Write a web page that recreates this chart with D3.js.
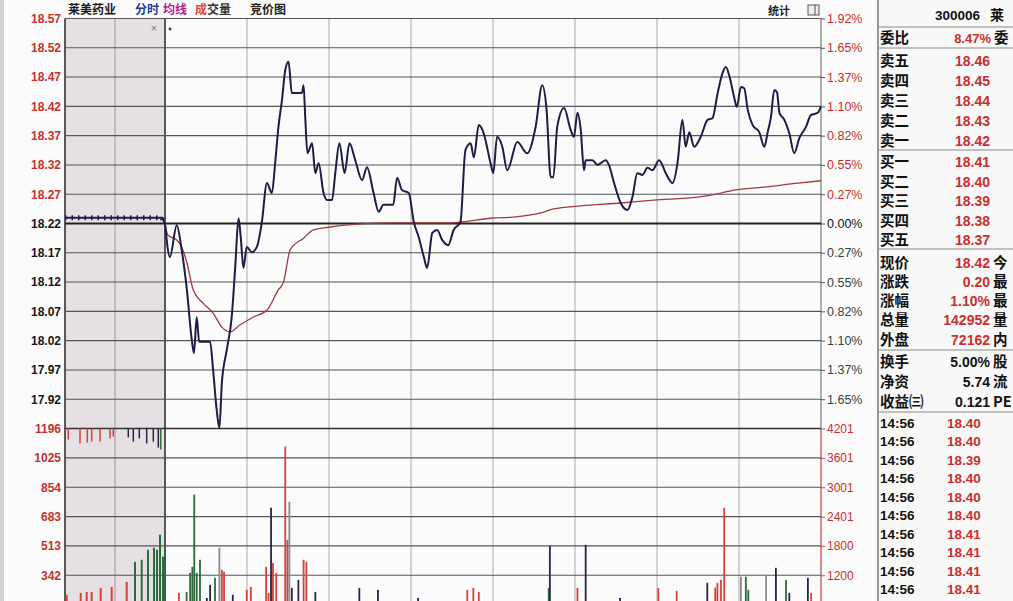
<!DOCTYPE html>
<html><head><meta charset="utf-8">
<script src="https://cdn.jsdelivr.net/npm/d3@7"></script>
<style>
body{margin:0;background:#fff}
svg{display:block}
text{font-family:"Liberation Sans",Arial,sans-serif}
.cjk{font-family:"Noto Sans CJK SC","Noto Sans",sans-serif;font-weight:700}
</style>
</head><body>
<svg id="c" width="1013" height="601"></svg>
<script>
// ---------- data ----------
const stockName = "莱美药业";
const stockCode = "300006";
const prevClose = 18.22;
const priceTicks = [18.57,18.52,18.47,18.42,18.37,18.32,18.27,18.22,18.17,18.12,18.07,18.02,17.97,17.92];
const pctLabels = ["1.92%","1.65%","1.37%","1.10%","0.82%","0.55%","0.27%","0.00%","0.27%","0.55%","0.82%","1.10%","1.37%","1.65%"];
const volTicks = [1196,1025,854,683,513,342];
const volRightLabels = ["4201","3601","3001","2401","1800","1200"];

// minute index (0 = 9:30, 240 = 15:00), price
const priceLine = [
[0,18.221],[1.8,18.163],[4.3,18.217],[6.1,18.175],[8.0,18.107],[9.8,18.021],[10.6,17.999],[11.6,18.060],
[12.5,18.018],[16.5,18.018],[17.6,17.970],[18.9,17.902],[19.9,17.871],[20.8,17.948],[22.6,18.004],[24.4,18.060],
[25.7,18.146],[26.9,18.229],[27.7,18.197],[28.7,18.144],[29.9,18.180],[31.8,18.171],[33.6,18.180],[35.4,18.221],
[37.3,18.289],[39.1,18.272],[40.3,18.323],[41.5,18.385],[42.8,18.431],[44.0,18.482],[45.2,18.496],[46.4,18.443],
[50.1,18.443],[50.7,18.456],[51.3,18.402],[52.1,18.340],[53.8,18.357],[55.0,18.306],[56.2,18.323],[58.0,18.272],
[59.3,18.260],[61.1,18.260],[62.3,18.306],[63.8,18.357],[65.7,18.306],[67.5,18.357],[69.6,18.328],[72.1,18.294],
[73.9,18.316],[76.3,18.272],[78.2,18.240],[79.9,18.252],[83.5,18.252],[84.9,18.298],[86.7,18.277],[89.2,18.272],
[91.0,18.223],[92.8,18.197],[94.7,18.163],[95.9,18.144],[97.8,18.204],[99.6,18.209],[101.4,18.192],[103.6,18.183],
[105.6,18.209],[108.1,18.223],[109.9,18.345],[111.8,18.357],[113.0,18.333],[114.8,18.388],[116.6,18.374],[119.1,18.323],
[120.1,18.306],[121.5,18.368],[123.4,18.351],[125.2,18.311],[128.9,18.359],[132.5,18.340],[135.6,18.385],[138.0,18.456],
[139.6,18.414],[141.1,18.299],[142.1,18.299],[143.5,18.385],[146.0,18.417],[148.4,18.380],[149.6,18.368],[150.9,18.409],
[152.1,18.380],[153.3,18.311],[153.9,18.328],[156.4,18.328],[158.2,18.320],[161.2,18.328],[162.4,18.320],[164.3,18.289],
[166.7,18.255],[169.2,18.243],[171.0,18.265],[172.8,18.306],[174.7,18.303],[176.5,18.315],[178.3,18.311],[180.8,18.328],
[183.2,18.306],[185.7,18.289],[187.5,18.323],[189.3,18.397],[190.5,18.351],[191.8,18.376],[193.6,18.351],[196.0,18.368],
[198.5,18.397],[200.3,18.400],[202.2,18.443],[204.0,18.477],[205.2,18.487],[206.4,18.473],[208.2,18.436],[209.2,18.419],
[210.7,18.453],[211.9,18.451],[213.2,18.414],[215.0,18.388],[217.4,18.376],[219.3,18.351],[220.5,18.376],[221.7,18.402],
[222.9,18.448],[223.9,18.444],[224.8,18.409],[226.6,18.397],[228.4,18.374],[230.2,18.340],[232.1,18.366],[234.5,18.385],
[236.3,18.405],[238.8,18.409],[240,18.420]
];
const avgLine = [
[0,18.219],[1.1,18.200],[4.3,18.192],[6.1,18.180],[8.0,18.153],[10.3,18.107],[13.9,18.084],[17.6,18.067],
[20.8,18.043],[23.8,18.035],[27.5,18.047],[32.2,18.060],[37.3,18.072],[41.5,18.107],[43.3,18.119],[45.8,18.175],
[50.7,18.195],[54.3,18.209],[60.5,18.214],[70.2,18.219],[86.1,18.221],[104.4,18.221],[109.2,18.223],[119.1,18.229],
[127.5,18.231],[137.4,18.238],[142.2,18.245],[152.1,18.250],[166.7,18.255],[178.8,18.260],[194.9,18.265],[203.4,18.272],
[208.1,18.277],[219.1,18.282],[231.6,18.289],[240,18.293]
];
// minute, volume, colour code (r up, g down, k dark, y grey)
const volBars = [
[0,508,"g"],[5.1,239,"r"],[7.9,245,"g"],[9.2,356,"g"],[10.0,391,"g"],[10.7,811,"g"],[11.6,356,"g"],[12.8,432,"g"],
[15.3,210,"k"],[16.5,286,"k"],[18.3,327,"g"],[19.9,502,"y"],[20.8,373,"r"],[21.6,362,"r"],[24.8,228,"k"],[29.9,257,"r"],
[31.4,274,"r"],[37.0,391,"r"],[37.9,239,"r"],[38.8,735,"k"],[39.5,414,"r"],[40.7,356,"r"],[44.0,1091,"r"],[44.8,548,"r"],
[45.5,770,"y"],[46.4,268,"k"],[48.8,315,"k"],[50.7,432,"r"],[51.7,420,"r"],[55.0,245,"k"],[71.1,268,"k"],[77.9,257,"k"],
[92.6,210,"k"],[110.6,257,"r"],[112.8,268,"r"],[114.8,245,"r"],[140.4,268,"g"],[140.8,513,"k"],[150.9,268,"r"],[153.9,519,"k"],
[166.5,210,"k"],[180.5,268,"r"],[187.2,251,"r"],[198.4,298,"k"],[201.3,270,"r"],[202.1,298,"r"],[203.4,315,"r"],[204.6,735,"r"],
[210.7,333,"y"],[212.5,333,"g"],[213.4,257,"g"],[219.9,344,"y"],[223.5,385,"k"],[227.2,315,"g"],[228.4,239,"k"],[235.2,327,"k"],
[236.4,239,"r"]
];
// call auction (0 = 9:15, 10 = 9:25)
const auctionPrice = [[0,18.23],[9.7,18.23],[10,18.22]];
const auctionBars = [
[0.17,228,"r"],[1.57,239,"r"],[2.17,245,"r"],[2.67,245,"r"],[3.57,268,"r"],[4.67,274,"r"],[6.17,303,"r"],
[7.0,420,"g"],[7.67,432,"g"],[8.3,490,"g"],[8.9,502,"g"],[9.2,490,"g"],[9.5,578,"g"],[9.8,450,"g"]
];
const auctionImbalance = [
[0.33,64,"r"],[1.5,87,"r"],[2.23,82,"r"],[2.67,76,"r"],[3.5,76,"r"],[4.5,58,"r"],[4.83,47,"r"],
[6.33,52,"k"],[6.83,76,"k"],[7.43,58,"k"],[8.17,87,"k"],[8.83,76,"k"],[9.33,111,"k"],[9.57,122,"g"]
];

const headerItems = ["莱美药业","分时","均线","成交量","竞价图"];
const askLabels = ["卖五","卖四","卖三","卖二","卖一"];
const askPrices = ["18.46","18.45","18.44","18.43","18.42"];
const bidLabels = ["买一","买二","买三","买四","买五"];
const bidPrices = ["18.41","18.40","18.39","18.38","18.37"];
const quoteLabels = ["现价","涨跌","涨幅","总量","外盘"];
const quoteValues = ["18.42","0.20","1.10%","142952","72162"];
const quoteSide = ["今","最","最","量","内"];
const statLabels = ["换手","净资","收益㈢"];
const statValues = ["5.00%","5.74","0.121"];
const statSide = ["股","流","PE"];
const tradeTimes = ["14:56","14:56","14:56","14:56","14:56","14:56","14:56","14:56","14:56","14:56"];
const tradePrices = ["18.40","18.40","18.39","18.40","18.40","18.40","18.41","18.41","18.41","18.41"];

// ---------- layout ----------
const W = 1013, H = 601;
const X0 = 65, XA = 165, X1 = 821, YT = 18.5, YM = 428.5, YB = 634;
const svg = d3.select("#c");
const xT = d3.scaleLinear().domain([0,240]).range([XA,X1]);
const xA = d3.scaleLinear().domain([0,10]).range([X0,XA]);
const yP = d3.scaleLinear().domain([17.87,18.57]).range([YM,YT]);
const yV = d3.scaleLinear().domain([0,1196]).range([YB,YM]);
const colors = {r:"#d8403a", g:"#2e6b3a", k:"#262645", y:"#8e8a90"};
const RED = "#c8302c";

svg.append("rect").attr("width",W).attr("height",H).attr("fill","#fbfbfb");
svg.append("rect").attr("x",0).attr("y",0).attr("width",4).attr("height",H).attr("fill","#cfcfcf");
// pre-market shading
svg.append("rect").attr("x",X0).attr("y",YT).attr("width",XA-X0).attr("height",H-YT).attr("fill","#e6dfe4");

// vertical grid
const g = svg.append("g");
d3.range(0,241,30).forEach(m=>{
  g.append("line").attr("x1",xT(m)).attr("x2",xT(m)).attr("y1",YT).attr("y2",H)
   .attr("stroke", m===0 ? "#333" : "#aaa").attr("stroke-width", m===0 ? 1.6 : 1);
});
g.append("line").attr("x1",xA(5)).attr("x2",xA(5)).attr("y1",YT).attr("y2",H).attr("stroke","#9a9a9a");
g.append("line").attr("x1",X0).attr("x2",X0).attr("y1",YT).attr("y2",H).attr("stroke","#333").attr("stroke-width",1.6);
// right border
g.append("line").attr("x1",X1).attr("x2",X1).attr("y1",YT).attr("y2",YM).attr("stroke","#888");
g.append("line").attr("x1",X1).attr("x2",X1).attr("y1",YM).attr("y2",H).attr("stroke","#d44");

// horizontal grid
priceTicks.forEach(p=>{
  g.append("line").attr("x1",X0).attr("x2",X1).attr("y1",yP(p)).attr("y2",yP(p))
   .attr("stroke", p===prevClose ? "#222" : "#555").attr("stroke-width", p===prevClose ? 1.8 : 1.1);
});
g.append("line").attr("x1",X0).attr("x2",X1).attr("y1",yV(1196)).attr("y2",yV(1196)).attr("stroke","#333").attr("stroke-width",1.6);
volTicks.slice(1).forEach(v=>{
  g.append("line").attr("x1",X0).attr("x2",X1).attr("y1",yV(v)).attr("y2",yV(v)).attr("stroke","#555").attr("stroke-width",1.1);
});

// volume bars
const bars = svg.append("g");
bars.selectAll(".vb").data(volBars).join("rect")
  .attr("x",d=>xT(d[0])-0.9).attr("width",1.8)
  .attr("y",d=>yV(d[1])).attr("height",d=>YB-yV(d[1]))
  .attr("fill",d=>colors[d[2]]);
bars.selectAll(".ab").data(auctionBars).join("rect")
  .attr("x",d=>xA(d[0])-1).attr("width",2)
  .attr("y",d=>yV(d[1])).attr("height",d=>YB-yV(d[1]))
  .attr("fill",d=>colors[d[2]]);
bars.selectAll(".ai").data(auctionImbalance).join("rect")
  .attr("x",d=>xA(d[0])-0.75).attr("width",1.5)
  .attr("y",YM).attr("height",d=>YB-yV(d[1]))
  .attr("fill",d=>colors[d[2]]);

// lines
const line = d3.line().x(d=>xT(d[0])).y(d=>yP(d[1])).curve(d3.curveMonotoneX);
svg.append("path").datum(avgLine).attr("d",line).attr("fill","none").attr("stroke","#a03a40").attr("stroke-width",1.3);
svg.append("path").datum(priceLine).attr("d",line).attr("fill","none").attr("stroke","#1d1d45").attr("stroke-width",2).attr("stroke-linejoin","round");
const aLine = d3.line().x(d=>xA(d[0])).y(d=>yP(d[1]));
svg.append("path").datum(auctionPrice).attr("d",aLine).attr("fill","none").attr("stroke","#1d1d45").attr("stroke-width",2);
svg.append("path").datum(auctionPrice).attr("d",aLine).attr("fill","none").attr("stroke","#1d1d45").attr("stroke-width",5).attr("stroke-dasharray","1.5,5");

// markers near top
svg.append("text").attr("x",151).attr("y",32).attr("font-size",10).attr("fill","#8a6a70").text("×");
svg.append("circle").attr("cx",170).attr("cy",29).attr("r",1.4).attr("fill","#333");

// left axes
const la = svg.append("g").attr("transform",`translate(${X0-3},0)`)
  .call(d3.axisLeft(yP).tickValues(priceTicks).tickSize(0).tickPadding(1).tickFormat(d3.format(".2f")));
la.select(".domain").remove();
la.selectAll("text").attr("font-size",12).attr("font-weight",700)
  .attr("fill",(d,i)=> i<7 ? RED : "#161616");
const lv = svg.append("g").attr("transform",`translate(${X0-3},0)`)
  .call(d3.axisLeft(yV).tickValues(volTicks).tickSize(0).tickPadding(1).tickFormat(d3.format("d")));
lv.select(".domain").remove();
lv.selectAll("text").attr("font-size",12).attr("font-weight",700).attr("fill",RED);

// right axes
const ra = svg.append("g").attr("transform",`translate(${X1},0)`)
  .call(d3.axisRight(yP).tickValues(priceTicks).tickSize(4).tickPadding(2).tickFormat((d,i)=>pctLabels[i]));
ra.select(".domain").remove();
ra.selectAll("line").attr("stroke","#555");
ra.selectAll("text").attr("font-size",12.5)
  .attr("fill",(d,i)=> i<7 ? RED : (i===7 ? "#111" : "#34443a"));
const rv = svg.append("g").attr("transform",`translate(${X1},0)`)
  .call(d3.axisRight(yV).tickValues(volTicks).tickSize(4).tickPadding(2).tickFormat((d,i)=>volRightLabels[i]));
rv.select(".domain").remove();
rv.selectAll("line").attr("stroke","#d44");
rv.selectAll("text").attr("font-size",12).attr("fill",RED);

// header
const hx = [68,135,163,195,250];
const hc = ["#1a1a1a","#2a3a9a","#b02090","#333","#222"];
headerItems.forEach((t,i)=>{
  const tx = svg.append("text").attr("class","cjk").attr("x",hx[i]).attr("y",13.5).attr("font-size",12).attr("fill",hc[i]);
  if(i===3){ tx.append("tspan").attr("fill","#e04a3a").text(t[0]); tx.append("tspan").text(t.slice(1)); }
  else tx.text(t);
});
svg.append("text").attr("class","cjk").attr("x",768).attr("y",15).attr("font-size",11).attr("fill","#222").text("统计");
svg.append("rect").attr("x",808).attr("y",5).attr("width",11).attr("height",10).attr("fill","#eee").attr("stroke","#555");
svg.append("line").attr("x1",815).attr("x2",815).attr("y1",5).attr("y2",15).attr("stroke","#555");

// ---------- right panel ----------
const P0 = 878;
svg.append("rect").attr("x",P0).attr("y",0).attr("width",W-P0).attr("height",H).attr("fill","#f8f8f8");
svg.append("line").attr("x1",P0).attr("x2",P0).attr("y1",0).attr("y2",H).attr("stroke","#777").attr("stroke-width",1.5);
[27,48,150,249,350,412].forEach(y=>{
  svg.append("line").attr("x1",P0).attr("x2",W).attr("y1",y).attr("y2",y).attr("stroke","#888").attr("stroke-width",1.2);
});
const pn = svg.append("g");
pn.append("text").attr("x",935).attr("y",20).attr("font-size",13.5).attr("font-weight",700).attr("fill","#111").text(stockCode);
pn.append("text").attr("class","cjk").attr("x",990).attr("y",20).attr("font-size",14).attr("fill","#111").text("莱");
pn.append("text").attr("class","cjk").attr("x",880).attr("y",43).attr("font-size",14.5).attr("fill","#111").text("委比");
pn.append("text").attr("x",991).attr("y",43).attr("text-anchor","end").attr("font-size",13).attr("font-weight",700).attr("fill",RED).text("8.47%");
pn.append("text").attr("class","cjk").attr("x",994).attr("y",43).attr("font-size",14.5).attr("fill","#111").text("委");

function rows(labels, values, y0, step, vx, anchor, side){
  labels.forEach((l,i)=>{
    const y = y0 + i*step;
    pn.append("text").attr("class","cjk").attr("x",880).attr("y",y+5.5).attr("font-size",14.5).attr("fill","#111").text(l);
    pn.append("text").attr("x",vx).attr("y",y+5.5).attr("text-anchor",anchor).attr("font-size",14).attr("font-weight",700)
      .attr("fill", side && side.color ? side.color[i] : RED).text(values[i]);
    if(side && side.chars) pn.append("text").attr("class","cjk").attr("x",993).attr("y",y+5.5).attr("font-size",14.5).attr("fill","#111").text(side.chars[i]);
  });
}
rows(askLabels, askPrices, 60.5, 20, 990, "end");
rows(bidLabels, bidPrices, 161.5, 19.5, 990, "end");
rows(quoteLabels, quoteValues, 262, 19.3, 990, "end", {chars:quoteSide});
rows(statLabels, statValues, 361, 20, 990, "end", {chars:statSide, color:["#111","#111","#111"]});
tradeTimes.forEach((t,i)=>{
  const y = 422 + i*18.5;
  pn.append("text").attr("x",880).attr("y",y+5.5).attr("font-size",13.5).attr("font-weight",700).attr("fill","#111").text(t);
  pn.append("text").attr("x",947).attr("y",y+5.5).attr("font-size",13.5).attr("font-weight",700).attr("fill",RED).text(tradePrices[i]);
});
</script>
</body></html>
